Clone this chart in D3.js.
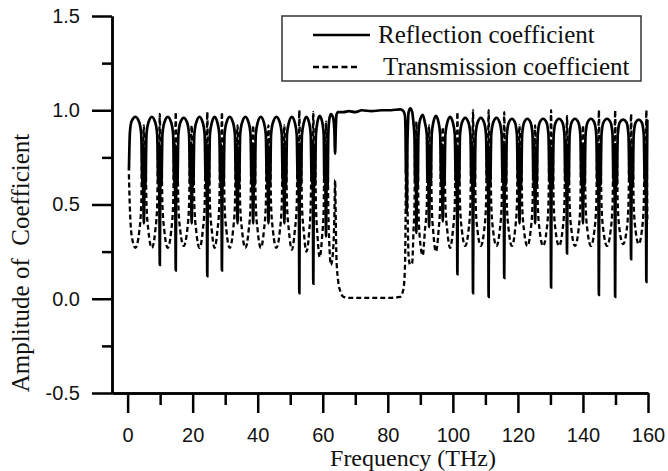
<!DOCTYPE html>
<html>
<head>
<meta charset="utf-8">
<style>
  body { margin: 0; background: #fff; }
  svg { display: block; }
</style>
</head>
<body>
<div id="chart"></div>
<script src="https://d3js.org/d3.v7.min.js"></script>
<script>
// frequency samples (THz), one row per dip
var freq = [
  0.4, 0.7, 1.2, 2.4,
  3.6, 4.2, 4.5, 4.7, 4.88, 5.0, 5.12, 5.3, 5.5, 5.8, 6.4, 7.45,
  8.5, 9.1, 9.4, 9.6, 9.78, 9.9, 10.02, 10.2, 10.4, 10.7, 11.3, 12.35,
  13.4, 14.0, 14.3, 14.5, 14.68, 14.8, 14.92, 15.1, 15.3, 15.6, 16.2, 17.25,
  18.3, 18.9, 19.2, 19.4, 19.58, 19.7, 19.82, 20.0, 20.2, 20.5, 21.1, 22.1,
  23.1, 23.7, 24.0, 24.2, 24.38, 24.5, 24.62, 24.8, 25.0, 25.3, 25.9, 26.75,
  27.6, 28.2, 28.5, 28.7, 28.88, 29.0, 29.12, 29.3, 29.5, 29.8, 30.4, 31.4,
  32.4, 33.0, 33.3, 33.5, 33.68, 33.8, 33.92, 34.1, 34.3, 34.6, 35.2, 36.2,
  37.2, 37.8, 38.1, 38.3, 38.48, 38.6, 38.72, 38.9, 39.1, 39.4, 40.0, 40.95,
  41.9, 42.5, 42.8, 43.0, 43.18, 43.3, 43.42, 43.6, 43.8, 44.1, 44.7, 45.75,
  46.8, 47.4, 47.7, 47.9, 48.08, 48.2, 48.32, 48.5, 48.7, 49.0, 49.6, 50.5,
  51.4, 52.0, 52.3, 52.5, 52.68, 52.8, 52.92, 53.1, 53.3, 53.6, 54.2, 54.95,
  55.8, 56.3, 56.6, 56.8, 56.98, 57.1, 57.22, 57.4, 57.6, 57.9, 58.4, 59.05,
  59.8, 60.3, 60.5, 60.7, 60.88, 61.0, 61.12, 61.3, 61.5, 61.7, 62.0, 62.5,
  63.2, 63.55, 63.8, 64.0, 64.2, 64.7, 65.4, 66.4, 68, 70, 72, 75, 78, 81, 83.8, 84.8, 85.3,
  85.45, 85.6, 85.7, 85.8, 85.9, 86.0, 86.15, 86.4, 86.9, 87.5,
  87.9, 88.2, 88.4, 88.6, 88.7, 88.8, 88.9, 89.0, 89.2, 89.4, 89.8, 90.75,
  91.4, 92.0, 92.2, 92.4, 92.58, 92.7, 92.82, 93.0, 93.2, 93.5, 94.0, 94.8,
  95.6, 96.1, 96.4, 96.6, 96.78, 96.9, 97.02, 97.2, 97.4, 97.7, 98.3, 99.15,
  100.0, 100.6, 100.9, 101.1, 101.28, 101.4, 101.52, 101.7, 101.9, 102.2, 102.8, 103.8,
  104.8, 105.4, 105.7, 105.9, 106.08, 106.2, 106.32, 106.5, 106.7, 107.0, 107.6, 108.6,
  109.6, 110.2, 110.5, 110.7, 110.88, 111.0, 111.12, 111.3, 111.5, 111.8, 112.4, 113.4,
  114.4, 115.0, 115.3, 115.5, 115.68, 115.8, 115.92, 116.1, 116.3, 116.6, 117.2, 118.15,
  119.1, 119.7, 120.0, 120.2, 120.38, 120.5, 120.62, 120.8, 121.0, 121.3, 121.9, 122.9,
  123.9, 124.5, 124.8, 125.0, 125.18, 125.3, 125.42, 125.6, 125.8, 126.1, 126.7, 127.75,
  128.8, 129.4, 129.7, 129.9, 130.08, 130.2, 130.32, 130.5, 130.7, 131.0, 131.6, 132.65,
  133.7, 134.3, 134.6, 134.8, 134.98, 135.1, 135.22, 135.4, 135.6, 135.9, 136.5, 137.55,
  138.6, 139.2, 139.5, 139.7, 139.88, 140.0, 140.12, 140.3, 140.5, 140.8, 141.4, 142.45,
  143.5, 144.1, 144.4, 144.6, 144.78, 144.9, 145.02, 145.2, 145.4, 145.7, 146.3, 147.4,
  148.5, 149.1, 149.4, 149.6, 149.78, 149.9, 150.02, 150.2, 150.4, 150.7, 151.3, 152.35,
  153.4, 154.0, 154.3, 154.5, 154.68, 154.8, 154.92, 155.1, 155.3, 155.6, 156.2, 157.15,
  158.1, 158.7, 159.0, 159.2, 159.38, 159.5, 159.62, 159.8
];

var reflection = [
  0.68, 0.88, 0.94, 0.965,
  0.935, 0.87, 0.62, 0.82, 0.50, 0.40, 0.52, 0.80, 0.60, 0.87, 0.935, 0.965,
  0.935, 0.87, 0.62, 0.82, 0.50, 0.18, 0.52, 0.80, 0.60, 0.87, 0.935, 0.965,
  0.935, 0.87, 0.62, 0.82, 0.50, 0.15, 0.52, 0.80, 0.60, 0.87, 0.935, 0.96,
  0.935, 0.87, 0.62, 0.82, 0.50, 0.40, 0.52, 0.80, 0.60, 0.87, 0.935, 0.965,
  0.935, 0.87, 0.62, 0.82, 0.50, 0.12, 0.52, 0.80, 0.60, 0.87, 0.935, 0.965,
  0.935, 0.87, 0.62, 0.82, 0.50, 0.15, 0.52, 0.80, 0.60, 0.87, 0.935, 0.965,
  0.935, 0.87, 0.62, 0.82, 0.50, 0.40, 0.52, 0.80, 0.60, 0.87, 0.935, 0.965,
  0.935, 0.87, 0.62, 0.82, 0.50, 0.40, 0.52, 0.80, 0.60, 0.87, 0.935, 0.965,
  0.935, 0.87, 0.62, 0.82, 0.50, 0.40, 0.52, 0.80, 0.60, 0.87, 0.935, 0.965,
  0.935, 0.87, 0.62, 0.82, 0.50, 0.40, 0.52, 0.80, 0.60, 0.87, 0.935, 0.965,
  0.935, 0.87, 0.62, 0.82, 0.50, 0.03, 0.52, 0.80, 0.60, 0.87, 0.935, 0.965,
  0.935, 0.87, 0.62, 0.82, 0.50, 0.08, 0.52, 0.80, 0.60, 0.87, 0.94, 0.97,
  0.94, 0.87, 0.62, 0.82, 0.50, 0.33, 0.52, 0.80, 0.60, 0.87, 0.95, 0.98,
  0.96, 0.90, 0.77, 0.90, 0.975, 0.99, 0.99, 0.99, 0.995, 0.99, 1.0, 0.995, 1.0, 1.0, 1.005, 0.995, 0.97,
  0.88, 0.65, 0.80, 0.46, 0.55, 0.78, 0.90, 0.99, 1.01, 0.99,
  0.93, 0.86, 0.62, 0.82, 0.50, 0.35, 0.52, 0.80, 0.60, 0.86, 0.94, 0.975,
  0.935, 0.87, 0.62, 0.82, 0.50, 0.38, 0.52, 0.80, 0.60, 0.87, 0.935, 0.97,
  0.935, 0.87, 0.62, 0.82, 0.50, 0.41, 0.52, 0.80, 0.60, 0.87, 0.935, 0.965,
  0.935, 0.87, 0.62, 0.82, 0.50, 0.13, 0.52, 0.80, 0.60, 0.87, 0.935, 0.96,
  0.935, 0.87, 0.62, 0.82, 0.50, 0.03, 0.52, 0.80, 0.60, 0.87, 0.935, 0.96,
  0.935, 0.87, 0.62, 0.82, 0.50, 0.01, 0.52, 0.80, 0.60, 0.87, 0.935, 0.96,
  0.935, 0.87, 0.62, 0.82, 0.50, 0.11, 0.52, 0.80, 0.60, 0.87, 0.935, 0.955,
  0.935, 0.87, 0.62, 0.82, 0.50, 0.40, 0.52, 0.80, 0.60, 0.87, 0.935, 0.955,
  0.935, 0.87, 0.62, 0.82, 0.50, 0.40, 0.52, 0.80, 0.60, 0.87, 0.935, 0.955,
  0.935, 0.87, 0.62, 0.82, 0.50, 0.06, 0.52, 0.80, 0.60, 0.87, 0.935, 0.955,
  0.935, 0.87, 0.62, 0.82, 0.50, 0.24, 0.52, 0.80, 0.60, 0.87, 0.935, 0.955,
  0.935, 0.87, 0.62, 0.82, 0.50, 0.40, 0.52, 0.80, 0.60, 0.87, 0.935, 0.955,
  0.935, 0.87, 0.62, 0.82, 0.50, 0.02, 0.52, 0.80, 0.60, 0.87, 0.935, 0.955,
  0.935, 0.87, 0.62, 0.82, 0.50, 0.01, 0.52, 0.80, 0.60, 0.87, 0.935, 0.95,
  0.935, 0.87, 0.62, 0.82, 0.50, 0.21, 0.52, 0.80, 0.60, 0.87, 0.935, 0.95,
  0.935, 0.87, 0.62, 0.82, 0.50, 0.09, 0.55, 0.95
];

var transmission = [
  0.66, 0.48, 0.34, 0.27,
  0.36, 0.50, 0.80, 0.58, 0.88, 0.92, 0.86, 0.60, 0.78, 0.50, 0.36, 0.27,
  0.36, 0.50, 0.80, 0.58, 0.88, 0.98, 0.86, 0.60, 0.78, 0.50, 0.36, 0.27,
  0.36, 0.50, 0.80, 0.58, 0.88, 0.99, 0.86, 0.60, 0.78, 0.50, 0.36, 0.28,
  0.36, 0.50, 0.80, 0.58, 0.88, 0.92, 0.86, 0.60, 0.78, 0.50, 0.36, 0.27,
  0.36, 0.50, 0.80, 0.58, 0.88, 0.99, 0.86, 0.60, 0.78, 0.50, 0.36, 0.27,
  0.36, 0.50, 0.80, 0.58, 0.88, 0.99, 0.86, 0.60, 0.78, 0.50, 0.36, 0.27,
  0.36, 0.50, 0.80, 0.58, 0.88, 0.92, 0.86, 0.60, 0.78, 0.50, 0.36, 0.27,
  0.36, 0.50, 0.80, 0.58, 0.88, 0.92, 0.86, 0.60, 0.78, 0.50, 0.36, 0.27,
  0.36, 0.50, 0.80, 0.58, 0.88, 0.92, 0.86, 0.60, 0.78, 0.50, 0.36, 0.27,
  0.36, 0.50, 0.80, 0.58, 0.88, 0.92, 0.86, 0.60, 0.78, 0.50, 0.36, 0.26,
  0.36, 0.50, 0.80, 0.58, 0.88, 1.00, 0.86, 0.60, 0.78, 0.50, 0.35, 0.25,
  0.35, 0.50, 0.80, 0.58, 0.88, 0.99, 0.86, 0.60, 0.78, 0.50, 0.33, 0.22,
  0.33, 0.48, 0.78, 0.57, 0.86, 0.94, 0.85, 0.60, 0.78, 0.48, 0.30, 0.18,
  0.26, 0.42, 0.63, 0.42, 0.22, 0.10, 0.04, 0.01, 0.005, 0.005, 0.005, 0.005, 0.005, 0.005, 0.01, 0.05, 0.18,
  0.40, 0.70, 0.55, 0.88, 0.80, 0.58, 0.40, 0.22, 0.18, 0.19,
  0.36, 0.50, 0.78, 0.57, 0.86, 0.94, 0.85, 0.60, 0.78, 0.50, 0.33, 0.23,
  0.36, 0.50, 0.80, 0.58, 0.88, 0.92, 0.86, 0.60, 0.78, 0.50, 0.35, 0.25,
  0.36, 0.50, 0.80, 0.58, 0.88, 0.91, 0.86, 0.60, 0.78, 0.50, 0.36, 0.27,
  0.36, 0.50, 0.80, 0.58, 0.88, 0.99, 0.86, 0.60, 0.78, 0.50, 0.36, 0.28,
  0.36, 0.50, 0.80, 0.58, 0.88, 1.00, 0.86, 0.60, 0.78, 0.50, 0.36, 0.28,
  0.36, 0.50, 0.80, 0.58, 0.88, 1.00, 0.86, 0.60, 0.78, 0.50, 0.36, 0.28,
  0.36, 0.50, 0.80, 0.58, 0.88, 0.99, 0.86, 0.60, 0.78, 0.50, 0.36, 0.28,
  0.36, 0.50, 0.80, 0.58, 0.88, 0.92, 0.86, 0.60, 0.78, 0.50, 0.36, 0.28,
  0.36, 0.50, 0.80, 0.58, 0.88, 0.92, 0.86, 0.60, 0.78, 0.50, 0.36, 0.28,
  0.36, 0.50, 0.80, 0.58, 0.88, 1.00, 0.86, 0.60, 0.78, 0.50, 0.36, 0.28,
  0.36, 0.50, 0.80, 0.58, 0.88, 0.97, 0.86, 0.60, 0.78, 0.50, 0.36, 0.28,
  0.36, 0.50, 0.80, 0.58, 0.88, 0.92, 0.86, 0.60, 0.78, 0.50, 0.36, 0.28,
  0.36, 0.50, 0.80, 0.58, 0.88, 1.00, 0.86, 0.60, 0.78, 0.50, 0.36, 0.28,
  0.36, 0.50, 0.80, 0.58, 0.88, 1.00, 0.86, 0.60, 0.78, 0.50, 0.36, 0.29,
  0.36, 0.50, 0.80, 0.58, 0.88, 0.98, 0.86, 0.60, 0.78, 0.50, 0.36, 0.29,
  0.36, 0.50, 0.80, 0.58, 0.88, 1.00, 0.80, 0.40
];

var xMajor = [0, 20, 40, 60, 80, 100, 120, 140, 160];
var xMinor = [10, 30, 50, 70, 90, 110, 130, 150];
var yMajor = [-0.5, 0.0, 0.5, 1.0, 1.5];
var yMinor = [-0.25, 0.25, 0.75, 1.25];
var seriesNames = ["Reflection coefficient", "Transmission coefficient"];

var width = 668, height = 471;
var svg = d3.select("#chart").append("svg")
  .attr("width", width)
  .attr("height", height)
  .style("background", "#fff");

var x = d3.scaleLinear().domain([-4.8, 160]).range([112, 648]);
var y = d3.scaleLinear().domain([-0.5, 1.5]).range([393, 16]);

var refPts = freq.map(function(f, i) { return [f, reflection[i]]; });
var traPts = freq.map(function(f, i) { return [f, transmission[i]]; });

var line = d3.line()
  .x(function(d) { return x(d[0]); })
  .y(function(d) { return y(d[1]); })
  .curve(d3.curveMonotoneX);

svg.append("path")
  .attr("d", line(refPts))
  .attr("fill", "none")
  .attr("stroke", "#000")
  .attr("stroke-width", 2.7);

svg.append("path")
  .attr("d", line(traPts))
  .attr("fill", "none")
  .attr("stroke", "#000")
  .attr("stroke-width", 2.3)
  .attr("stroke-dasharray", "5,3");

// axes
var sans = "'Liberation Sans', Arial, sans-serif";
var serif = "'Liberation Serif', 'Times New Roman', serif";

function styleAxis(g) {
  g.select(".domain").attr("stroke", "#000").attr("stroke-width", 2.5);
  g.selectAll(".tick line").attr("stroke", "#000").attr("stroke-width", 2.5);
  g.selectAll(".tick text").attr("fill", "#111").style("font-family", sans).style("font-size", "20px");
}

var xAxisMinor = svg.append("g")
  .attr("transform", "translate(0,393)")
  .call(d3.axisBottom(x).tickValues(xMinor).tickSize(12).tickSizeOuter(0).tickFormat(""));
styleAxis(xAxisMinor);

var xAxis = svg.append("g")
  .attr("transform", "translate(0,393)")
  .call(d3.axisBottom(x).tickValues(xMajor).tickSize(20).tickSizeOuter(0).tickPadding(15)
    .tickFormat(function(d) { return d; }));
styleAxis(xAxis);

var yAxisMinor = svg.append("g")
  .attr("transform", "translate(112,0)")
  .call(d3.axisLeft(y).tickValues(yMinor).tickSize(10).tickSizeOuter(0).tickFormat(""));
styleAxis(yAxisMinor);

var yAxis = svg.append("g")
  .attr("transform", "translate(112,0)")
  .call(d3.axisLeft(y).tickValues(yMajor).tickSize(20).tickSizeOuter(0).tickPadding(12)
    .tickFormat(function(d) { return d.toFixed(1); }));
styleAxis(yAxis);

// axis titles
svg.append("text")
  .attr("x", 413)
  .attr("y", 466)
  .attr("text-anchor", "middle")
  .style("font-family", serif)
  .style("font-size", "24px")
  .attr("fill", "#111")
  .text("Frequency (THz)");

svg.append("text")
  .attr("transform", "translate(29,263) rotate(-90)")
  .attr("text-anchor", "middle")
  .style("font-family", serif)
  .style("font-size", "25px")
  .style("white-space", "pre")
  .attr("fill", "#111")
  .text("Amplitude of  Coefficient");

// legend
var legend = svg.append("g");
legend.append("rect")
  .attr("x", 282).attr("y", 16)
  .attr("width", 359).attr("height", 65)
  .attr("fill", "#fff")
  .attr("stroke", "#333")
  .attr("stroke-width", 1.5);
legend.append("line")
  .attr("x1", 313).attr("x2", 370).attr("y1", 35).attr("y2", 35)
  .attr("stroke", "#000").attr("stroke-width", 2.4);
legend.append("line")
  .attr("x1", 313).attr("x2", 358).attr("y1", 67).attr("y2", 67)
  .attr("stroke", "#000").attr("stroke-width", 2.4)
  .attr("stroke-dasharray", "6,3.5");
legend.append("text")
  .attr("x", 378).attr("y", 43)
  .style("font-family", serif).style("font-size", "25px")
  .attr("fill", "#111")
  .text(seriesNames[0]);
legend.append("text")
  .attr("x", 383).attr("y", 75)
  .style("font-family", serif).style("font-size", "25px")
  .attr("fill", "#111")
  .text(seriesNames[1]);
</script>
</body>
</html>
